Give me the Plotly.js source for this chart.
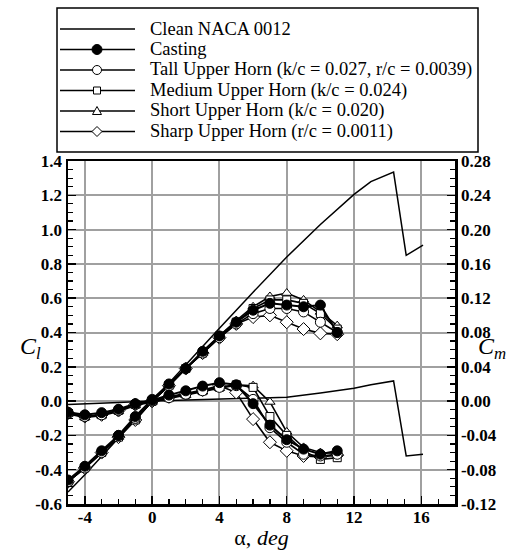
<!DOCTYPE html>
<html><head><meta charset="utf-8">
<script src="https://cdn.plot.ly/plotly-3.0.1.min.js"></script>
<style>html,body{margin:0;padding:0;background:#fff}</style>
</head><body><div id="chart" style="width:523px;height:550px"></div>
<script>
// ---- data ----
const alpha = [-5,-4,-3,-2,-1,0,1,2,3,4,5,6,7,8,9,10,11];
const cleanAlpha = [-5,-4,-2,0,2,4,6,8,10,12,13,14.35,15.1,16.1];
const cleanCl = [-0.53,-0.43,-0.215,0,0.215,0.425,0.635,0.84,1.03,1.205,1.28,1.335,0.85,0.91];
const cleanCm = [-0.004,-0.003,-0.0015,0,0.001,0.002,0.003,0.0045,0.0095,0.015,0.019,0.0235,-0.064,-0.062];
const castCl  = [-0.46,-0.38,-0.29,-0.20,-0.09,0.01,0.10,0.19,0.29,0.38,0.46,0.53,0.57,0.56,0.55,0.56,0.40];
const tallCl  = [-0.47,-0.39,-0.30,-0.20,-0.10,0.00,0.09,0.19,0.28,0.37,0.45,0.51,0.54,0.54,0.52,0.46,0.40];
const medCl   = [-0.47,-0.39,-0.30,-0.21,-0.11,0.00,0.09,0.19,0.28,0.38,0.46,0.54,0.59,0.59,0.57,0.51,0.42];
const shortCl = [-0.47,-0.39,-0.30,-0.21,-0.11,0.00,0.09,0.19,0.28,0.38,0.47,0.55,0.61,0.63,0.59,0.52,0.44];
const sharpCl = [-0.47,-0.39,-0.30,-0.21,-0.11,0.00,0.09,0.19,0.28,0.37,0.45,0.49,0.50,0.46,0.42,0.395,0.39];
const castCm  = [-0.013,-0.016,-0.0135,-0.0095,-0.003,0.001,0.007,0.012,0.0175,0.0215,0.019,-0.003,-0.028,-0.045,-0.056,-0.062,-0.058];
const tallCm  = [-0.014,-0.018,-0.016,-0.011,-0.004,0.000,0.004,0.008,0.012,0.016,0.018,0.002,-0.031,-0.048,-0.062,-0.064,-0.062];
const medCm   = [-0.014,-0.018,-0.016,-0.011,-0.004,0.000,0.004,0.008,0.012,0.016,0.019,0.016,-0.018,-0.040,-0.058,-0.068,-0.066];
const shortCm = [-0.015,-0.019,-0.017,-0.012,-0.005,-0.001,0.003,0.007,0.011,0.015,0.019,0.018,-0.001,-0.036,-0.054,-0.060,-0.061];
const sharpCm = [-0.014,-0.018,-0.016,-0.011,-0.004,0.000,0.005,0.009,0.013,0.018,0.010,-0.021,-0.048,-0.058,-0.064,-0.065,-0.063];

const xTicks = [-4,0,4,8,12,16];
const xTickText = ['-4','0','4','8','12','16'];
const clTicks = [-0.6,-0.4,-0.2,0,0.2,0.4,0.6,0.8,1.0,1.2,1.4];
const clTickText = ['-0.6','-0.4','-0.2','0.0','0.2','0.4','0.6','0.8','1.0','1.2','1.4'];
const cmTicks = [-0.12,-0.08,-0.04,0,0.04,0.08,0.12,0.16,0.20,0.24,0.28];
const cmTickText = ['-0.12','-0.08','-0.04','0.00','0.04','0.08','0.12','0.16','0.20','0.24','0.28'];

const seriesNames = ['Clean NACA 0012','Casting','Tall Upper Horn (k/c = 0.027, r/c = 0.0039)','Medium Upper Horn (k/c = 0.024)','Short Upper Horn (k/c = 0.020)','Sharp Upper Horn (r/c = 0.0011)'];

// ---- styles ----
const FONT = 'Liberation Serif, Times New Roman, serif';
const mk = {
  cast:  {symbol:'circle', size:10, color:'black', line:{color:'black', width:1}},
  tall:  {symbol:'circle', size:10, color:'white', line:{color:'black', width:1}},
  med:   {symbol:'square', size:8, color:'white', line:{color:'black', width:1}},
  short: {symbol:'triangle-up', size:9, color:'white', line:{color:'black', width:1}},
  sharp: {symbol:'diamond', size:10, color:'white', line:{color:'black', width:1}}
};
function tr(x, y, axis, marker, w){
  const t = {x:x, y:y, yaxis:axis, type:'scatter', showlegend:false, hoverinfo:'skip',
    line:{color:'black', width:w||1.6}};
  if(marker){ t.mode='lines+markers'; t.marker=marker; } else { t.mode='lines'; }
  return t;
}
const data = [
  tr(cleanAlpha, cleanCl, 'y', null, 1.5),
  tr(alpha, sharpCl, 'y', mk.sharp), tr(alpha, shortCl, 'y', mk.short),
  tr(alpha, medCl, 'y', mk.med), tr(alpha, tallCl, 'y', mk.tall),
  tr(alpha, castCl, 'y', mk.cast, 2),
  tr(cleanAlpha, cleanCm, 'y2', null, 1.5),
  tr(alpha, sharpCm, 'y2', mk.sharp), tr(alpha, shortCm, 'y2', mk.short),
  tr(alpha, medCm, 'y2', mk.med), tr(alpha, tallCm, 'y2', mk.tall),
  tr(alpha, castCm, 'y2', mk.cast, 2)
];

// ---- layout helpers (pixel -> paper) ----
const L=68, R=68, T=161, B=46, W=523, H=550;
const pw = W-L-R, ph = H-T-B;
const px = p => (p-L)/pw;
const py = p => (H-B-p)/ph;

const tickfont = {family:FONT, size:17, color:'black', weight:'bold'};
const shapes = [];
const annotations = [];
// legend box
shapes.push({type:'rect', xref:'paper', yref:'paper', x0:px(57), x1:px(478), y0:py(152), y1:py(8),
  line:{color:'black', width:1.5}, fillcolor:'rgba(0,0,0,0)'});
const rows = [29, 49.5, 70, 90.5, 111, 131.5];
const legSyms = [null,'fcircle','circle','square','triangle','diamond'];
rows.forEach((r,i)=>{
  shapes.push({type:'line', xref:'paper', yref:'paper', x0:px(60), x1:px(135), y0:py(r), y1:py(r),
    line:{color:'black', width:1.5}});
  const s = legSyms[i];
  const base = {xref:'paper', yref:'paper', xsizemode:'pixel', ysizemode:'pixel',
    xanchor:px(97), yanchor:py(r), line:{color:'black', width:1}};
  if(s==='fcircle') shapes.push(Object.assign({type:'circle', x0:-5, x1:5, y0:-5, y1:5, fillcolor:'black'}, base));
  if(s==='circle') shapes.push(Object.assign({type:'circle', x0:-4.5, x1:4.5, y0:-4.5, y1:4.5, fillcolor:'white'}, base));
  if(s==='square') shapes.push(Object.assign({type:'rect', x0:-3.5, x1:3.5, y0:-3.5, y1:3.5, fillcolor:'white'}, base));
  if(s==='triangle') shapes.push(Object.assign({type:'path', path:'M-4.5,-3.5 L4.5,-3.5 L0,4.5 Z', fillcolor:'white'}, base));
  if(s==='diamond') shapes.push(Object.assign({type:'path', path:'M0,-5 L5,0 L0,5 L-5,0 Z', fillcolor:'white'}, base));
  annotations.push({xref:'paper', yref:'paper', x:px(148), y:py(r), xanchor:'left', yanchor:'middle',
    text:seriesNames[i], showarrow:false, font:{family:FONT, size:18.5, color:'black'}});
});
annotations.push({xref:'paper', yref:'paper', x:px(18), y:py(348), xanchor:'left', yanchor:'middle',
  text:'<i>C<sub>l</sub></i>', showarrow:false, font:{family:FONT, size:24, color:'black'}});
annotations.push({xref:'paper', yref:'paper', x:px(476), y:py(348), xanchor:'left', yanchor:'middle',
  text:'<i>C<sub>m</sub></i>', showarrow:false, font:{family:FONT, size:24, color:'black'}});

const axCommon = {ticks:'inside', ticklen:8, tickwidth:1.5, tickcolor:'black', showline:true,
  linecolor:'black', linewidth:2.5, zeroline:false, tickfont:tickfont, automargin:false};

const layout = {
  width:W, height:H, margin:{l:L, r:R, t:T, b:B, pad:0},
  paper_bgcolor:'white', plot_bgcolor:'white', showlegend:false,
  xaxis: Object.assign({}, axCommon, {range:[-5,18], tickvals:xTicks, ticktext:xTickText,
    mirror:true, showgrid:true, gridcolor:'#a0a0a0', gridwidth:2, ticklabelstandoff:-4,
    minor:{ticks:'inside', ticklen:5, tickwidth:1.2, tickcolor:'black', dtick:1, tick0:0, showgrid:false},
    title:{text:'α, <i>deg</i>', font:{family:FONT, size:22, color:'black'}, standoff:0}}),
  yaxis: Object.assign({}, axCommon, {range:[-0.6,1.4], tickvals:clTicks, ticktext:clTickText,
    showgrid:true, gridcolor:'#a0a0a0', gridwidth:2,
    minor:{ticks:'inside', ticklen:5, tickwidth:1.2, tickcolor:'black', dtick:0.05, tick0:0, showgrid:false}}),
  yaxis2: Object.assign({}, axCommon, {range:[-0.12,0.28], overlaying:'y', side:'right',
    tickvals:cmTicks, ticktext:cmTickText, showgrid:false,
    minor:{ticks:'inside', ticklen:5, tickwidth:1.2, tickcolor:'black', dtick:0.01, tick0:0, showgrid:false}}),
  shapes:shapes, annotations:annotations
};
Plotly.newPlot('chart', data, layout, {staticPlot:true, displayModeBar:false});
</script>
</body></html>
